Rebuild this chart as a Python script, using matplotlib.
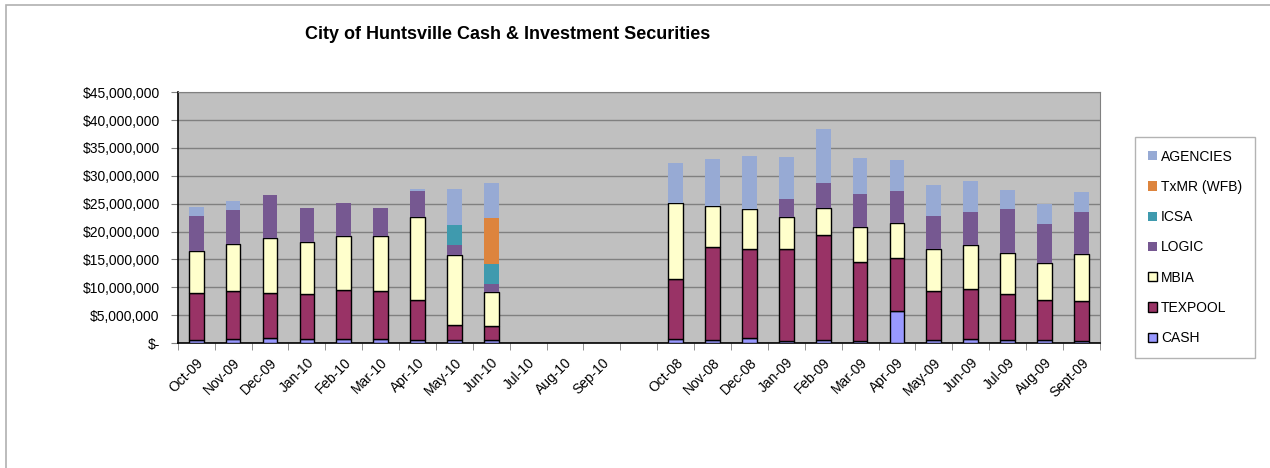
import numpy as np
from matplotlib import pyplot as plt
from matplotlib.patches import Rectangle
from matplotlib.ticker import FuncFormatter, MultipleLocator

plt.rcParams['font.family'] = ['Liberation Sans', 'DejaVu Sans']

# --- Datos (millones de $) ---
meses = ["Oct-09", "Nov-09", "Dec-09", "Jan-10", "Feb-10", "Mar-10", "Apr-10", "May-10",
         "Jun-10", "Jul-10", "Aug-10", "Sep-10", "",
         "Oct-08", "Nov-08", "Dec-08", "Jan-09", "Feb-09", "Mar-09", "Apr-09", "May-09",
         "Jun-09", "Jul-09", "Aug-09", "Sept-09"]

cash = [0.5, 0.66, 0.95, 0.66, 0.66, 0.7, 0.54, 0.54, 0.54, 0, 0, 0, 0,
        0.66, 0.54, 0.84, 0.4, 0.54, 0.3, 5.7, 0.54, 0.66, 0.48, 0.54, 0.4]
texpool = [8.4, 8.64, 7.95, 8.14, 8.94, 8.7, 7.16, 2.66, 2.46, 0, 0, 0, 0,
           10.84, 16.76, 15.96, 16.5, 18.76, 14.3, 9.5, 8.86, 9.04, 8.32, 7.26, 7.2]
mbia = [7.7, 8.4, 9.9, 9.4, 9.6, 9.8, 15.0, 12.6, 6.1, 0, 0, 0, 0,
        13.7, 7.3, 7.2, 5.7, 4.9, 6.2, 6.3, 7.4, 7.9, 7.3, 6.5, 8.4]
logic = [6.2, 6.1, 7.7, 6.1, 5.9, 5.0, 4.6, 1.8, 1.5, 0, 0, 0, 0,
         0, 0, 0, 3.2, 4.6, 5.9, 5.8, 6.0, 5.9, 7.9, 7.0, 7.5]
icsa = [0, 0, 0, 0, 0, 0, 0, 3.6, 3.6, 0, 0, 0, 0,
        0, 0, 0, 0, 0, 0, 0, 0, 0, 0, 0, 0]
txmr = [0, 0, 0, 0, 0, 0, 0, 0, 8.3, 0, 0, 0, 0,
        0, 0, 0, 0, 0, 0, 0, 0, 0, 0, 0, 0]
agencies = [1.6, 1.7, 0, 0, 0, 0, 0.3, 6.4, 6.3, 0, 0, 0, 0,
            7.1, 8.5, 9.6, 7.5, 9.6, 6.5, 5.5, 5.5, 5.6, 3.4, 3.6, 3.6]

# (nombre, valores, color, borde)
series = [
    ("CASH", cash, "#9999FF", "black"),
    ("TEXPOOL", texpool, "#993366", "black"),
    ("MBIA", mbia, "#FFFFCC", "black"),
    ("LOGIC", logic, "#765891", "none"),
    ("ICSA", icsa, "#3F9AAE", "none"),
    ("TxMR (WFB)", txmr, "#DD843D", "none"),
    ("AGENCIES", agencies, "#97AAD4", "none"),
]

fig = plt.figure(figsize=(12.7, 4.68), dpi=100)
ax = fig.add_axes([0.140, 0.267, 0.726, 0.536])
ax.set_facecolor("#C0C0C0")

x = np.arange(len(meses))
base = np.zeros(len(meses))
handles = []
for nombre, vals, color, borde in series:
    v = np.array(vals) * 1e6
    h = np.where(v > 0, v, np.nan)  # meses vacíos sin barra
    b = ax.bar(x, h, 0.4, bottom=base, color=color, edgecolor=borde,
               linewidth=1.0, label=nombre, zorder=3)
    handles.append(b)
    base += v

# Ejes
ax.set_xlim(-0.5, len(meses) - 0.5)
ax.set_ylim(0, 45e6)
ax.yaxis.set_major_locator(MultipleLocator(5e6))
ax.yaxis.set_major_formatter(FuncFormatter(
    lambda v, p: "$-" if v == 0 else f"${v:,.0f}"))
ax.grid(axis="y", color="#808080", linewidth=1.0, zorder=0)
ax.set_axisbelow(True)

ax.set_xticks(x)
ax.set_xticklabels(meses, rotation=45, ha="right", rotation_mode="anchor")
ax.set_xticks(np.arange(-0.5, len(meses)), minor=True)
ax.tick_params(axis="x", which="major", length=0, pad=9, labelsize=10)
ax.tick_params(axis="x", which="minor", length=5, color="#808080")
ax.tick_params(axis="y", length=5, color="#808080", labelsize=10, pad=8)

for s in ["top", "right"]:
    ax.spines[s].set_color("#808080")
for s in ["left", "bottom"]:
    ax.spines[s].set_color("black")
    ax.spines[s].set_linewidth(1.2)

fig.text(0.24, 0.927, "City of Huntsville Cash & Investment Securities",
         fontsize=13, fontweight="bold", ha="left", va="center")

leg = fig.legend(handles[::-1], [s[0] for s in series][::-1],
                 loc="upper left", bbox_to_anchor=(0.894, 0.707),
                 frameon=True, fancybox=False, edgecolor="#A0A0A0",
                 fontsize=10, labelspacing=1.17, handlelength=0.65,
                 handleheight=0.65, handletextpad=0.3, borderpad=0.9,
                 borderaxespad=0)
leg.get_frame().set_linewidth(1.0)

# Marco exterior
fig.patches.append(Rectangle((0.005, -0.1), 1.1, 1.089, transform=fig.transFigure,
                             fill=False, edgecolor="#B0B0B0", linewidth=1.2))

fig.savefig("out.png", dpi=100)
